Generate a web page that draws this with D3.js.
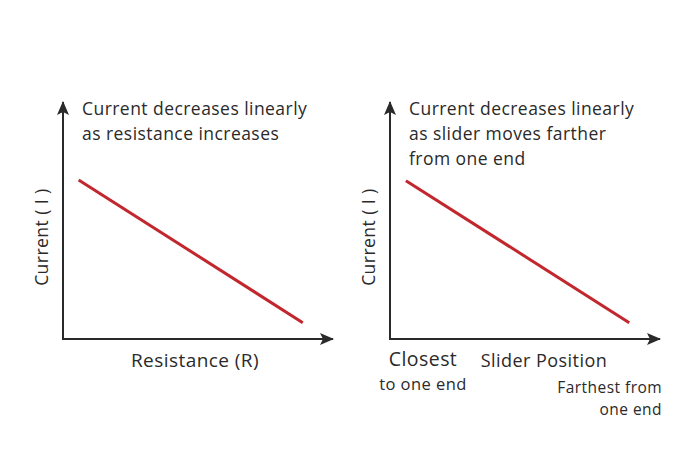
<!DOCTYPE html>
<html>
<head>
<meta charset="utf-8">
<script src="https://cdn.jsdelivr.net/npm/d3@7"></script>
<style>
  body { margin: 0; background: #fff; }
  svg { display: block; font-family: "Open Sans", sans-serif; letter-spacing: 0.45px; }
</style>
</head>
<body>
<svg width="700" height="467"></svg>
<script>
// values (0..10 arbitrary units on both axes)
const resistance = [0.58, 8.88];
const currentVsR = [6.71, 0.69];
const sliderPos = [0.59, 8.86];
const currentVsS = [6.68, 0.69];

const titleR = ["Current decreases linearly", "as resistance increases"];
const titleS = ["Current decreases linearly", "as slider moves farther", "from one end"];
const yLabel = "Current ( I )";
const xLabelR = "Resistance (R)";
const xLabelS = "Slider Position";
const xStartLabel = ["Closest", "to one end"];
const xEndLabel = ["Farthest from", "one end"];

const svg = d3.select("svg");
const axisColor = "#2a2a2a",
  textColor = "#2a2a2a",
  lineColor = "#c1272d";

// arrow head
svg.append("defs")
  .append("marker")
  .attr("id", "arrow")
  .attr("viewBox", "0 0 14 12")
  .attr("refX", 13)
  .attr("refY", 6)
  .attr("markerWidth", 14)
  .attr("markerHeight", 12)
  .attr("markerUnits", "userSpaceOnUse")
  .attr("orient", "auto")
  .append("path")
  .attr("d", "M0,0 L14,6 L0,12 L3,6 Z")
  .attr("fill", axisColor);

const y = d3.scaleLinear().domain([0, 10]).range([339, 102]);

function panel(x0, xs, ys, title) {
  const x = d3.scaleLinear().domain([0, 10]).range([x0, x0 + 270]);
  const g = svg.append("g");

  // axes
  g.append("line")
    .attr("x1", x(0)).attr("y1", y(0))
    .attr("x2", x(0)).attr("y2", y(10))
    .attr("stroke", axisColor).attr("stroke-width", 2)
    .attr("marker-end", "url(#arrow)");
  g.append("line")
    .attr("x1", x(0) - 1).attr("y1", y(0))
    .attr("x2", x(10)).attr("y2", y(0))
    .attr("stroke", axisColor).attr("stroke-width", 2)
    .attr("marker-end", "url(#arrow)");

  // the straight line
  const pts = xs.map((d, i) => [d, ys[i]]);
  g.append("path")
    .datum(pts)
    .attr("d", d3.line().x(d => x(d[0])).y(d => y(d[1])))
    .attr("fill", "none")
    .attr("stroke", lineColor)
    .attr("stroke-width", 3);

  // title
  g.append("text")
    .attr("fill", textColor)
    .style("font-size", "17.5px")
    .selectAll("tspan")
    .data(title)
    .join("tspan")
    .attr("x", x(0) + 19)
    .attr("y", (d, i) => 115 + i * 25)
    .text(d => d);

  // y label
  g.append("text")
    .attr("transform", `translate(${x(0) - 15},${y(4.3)}) rotate(-90)`)
    .attr("text-anchor", "middle")
    .attr("fill", textColor)
    .style("font-size", "17.5px")
    .text(yLabel);

  return x;
}

panel(63, resistance, currentVsR, titleR);
const xs = panel(390, sliderPos, currentVsS, titleS);

svg.append("text")
  .attr("x", 195).attr("y", 367)
  .attr("text-anchor", "middle")
  .attr("fill", textColor)
  .style("font-size", "19px")
  .text(xLabelR);

svg.append("text")
  .attr("x", 544).attr("y", 367)
  .attr("text-anchor", "middle")
  .attr("fill", textColor)
  .style("font-size", "18px")
  .text(xLabelS);

svg.append("text")
  .attr("x", 423).attr("y", 366)
  .attr("text-anchor", "middle")
  .attr("fill", textColor)
  .style("font-size", "19.5px")
  .text(xStartLabel[0]);
svg.append("text")
  .attr("x", 423).attr("y", 390)
  .attr("text-anchor", "middle")
  .attr("fill", textColor)
  .style("font-size", "16.5px")
  .text(xStartLabel[1]);

svg.append("text")
  .attr("text-anchor", "end")
  .attr("fill", textColor)
  .style("font-size", "15.5px")
  .selectAll("tspan")
  .data(xEndLabel)
  .join("tspan")
  .attr("x", 662)
  .attr("y", (d, i) => 393 + i * 22)
  .text(d => d);
</script>
</body>
</html>
